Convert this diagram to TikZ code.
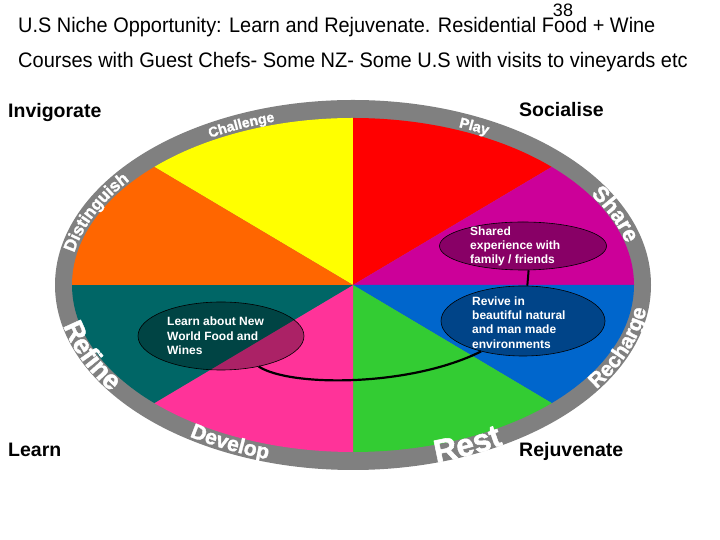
\documentclass[tikz,border=0pt]{standalone}
\usepackage{fontspec}
\setmainfont{Liberation Sans}
\newfontfamily\rimfont[FakeBold=1.6]{Liberation Sans Bold}
\usetikzlibrary{shapes.geometric,decorations.text}
\definecolor{cyel}{HTML}{FFFF00}
\definecolor{cred}{HTML}{FF0000}
\definecolor{cmag}{HTML}{CC0099}
\definecolor{cblu}{HTML}{0066CC}
\definecolor{cgrn}{HTML}{33CC33}
\definecolor{cpnk}{HTML}{FF3399}
\definecolor{cteal}{HTML}{006666}
\definecolor{corg}{HTML}{FF6600}
\definecolor{cgray}{HTML}{808080}
\newcommand\wheelsector[3]{\fill[#1] (C) -- ++(#2:281pt and 167pt) arc[start angle=#2, end angle=#3, x radius=281pt, y radius=167pt] -- cycle;}
\newcommand\bandtext[6]{\path[decorate, decoration={text along path, text align=center, text color=white, text={|\rimfont\fontsize{#1}{#1}\selectfont|#2}}] (C) ++(#3:#5pt and #6pt) arc[start angle=#3, end angle=#4, x radius=#5pt, y radius=#6pt];}
\begin{document}
\begin{tikzpicture}[x=1pt,y=1pt,
  bubble/.style={ellipse, draw=black, line width=0.6pt, fill=black, fill opacity=0.33, inner sep=0pt},
  bubtext/.style={text=white, font=\bfseries\fontsize{12}{14.3}\selectfont, align=left, inner sep=0pt, anchor=west},
  biglabel/.style={font=\bfseries\fontsize{19.5}{22}\selectfont, anchor=base west, inner sep=0pt},
  titletext/.style={font=\fontsize{21}{24}\selectfont, anchor=base west, inner sep=0pt},
  conn/.style={draw=black, line width=2.2pt}]
\useasboundingbox (0,0) rectangle (720,540);
\coordinate (C) at (353,255);
% gray rim
\fill[cgray] (C) ellipse[x radius=298pt, y radius=185pt];
% sectors
\wheelsector{cyel}{135}{90}
\wheelsector{cred}{90}{45}
\wheelsector{cmag}{45}{0}
\wheelsector{cblu}{0}{-45}
\wheelsector{cgrn}{-45}{-90}
\wheelsector{cpnk}{270}{225}
\wheelsector{cteal}{225}{180}
\wheelsector{corg}{180}{135}
% rim words (top half clockwise, bottom half counter-clockwise)
\bandtext{14}{Challenge}{136}{92}{285}{170}
\bandtext{14.5}{Play}{85}{43}{285}{170}
\bandtext{22}{Share}{43}{1}{282}{168}
\bandtext{17}{Distinguish}{188}{128}{284}{169}
\bandtext{27}{Refine}{182}{224}{297}{184}
\bandtext{21}{Develop}{224}{264}{295}{182}
\bandtext{32}{Rest}{-86}{-46}{298}{185}
\bandtext{21}{Recharge}{-43}{3}{296}{183}
% bubbles
\node[bubble, minimum width=166pt, minimum height=68pt] (learnb) at (221,204) {};
\node[bubble, minimum width=167pt, minimum height=48pt] (sharedb) at (523,294) {};
\node[bubble, minimum width=164pt, minimum height=70pt] (reviveb) at (523,219) {};
\node[bubtext] (learnt) at (167,204) {Learn about New\\World Food and\\Wines};
\node[bubtext] (sharedt) at (470,293.5) {Shared\\experience with\\family / friends};
\node[bubtext] (revivet) at (472,217.5) {Revive in\\beautiful natural\\and man made\\environments};
% connectors
\draw[conn] (learnb.-39) .. controls (290,153) and (410,153) .. (reviveb.216);
\draw[conn, line width=2pt] (sharedb.-77) -- (reviveb.83);
% titles
\node[titletext] (t1) at (18,507) {\scalebox{0.948}[1]{U.S Niche Opportunity: Learn and Rejuvenate. Residential Food + Wine}};
\node[titletext] (t2) at (18,472) {\scalebox{0.953}[1]{Courses with Guest Chefs- Some NZ- Some U.S with visits to vineyards etc}};
\node[font=\fontsize{18}{18}\selectfont, anchor=base, inner sep=0pt] (pg) at (563,523) {38};
% corner labels
\node[biglabel] (inv) at (8,422) {Invigorate};
\node[biglabel] (soc) at (519,423) {Socialise};
\node[biglabel] (lrn) at (8,83) {Learn};
\node[biglabel] (rej) at (519,83) {Rejuvenate};
\end{tikzpicture}
\end{document}
